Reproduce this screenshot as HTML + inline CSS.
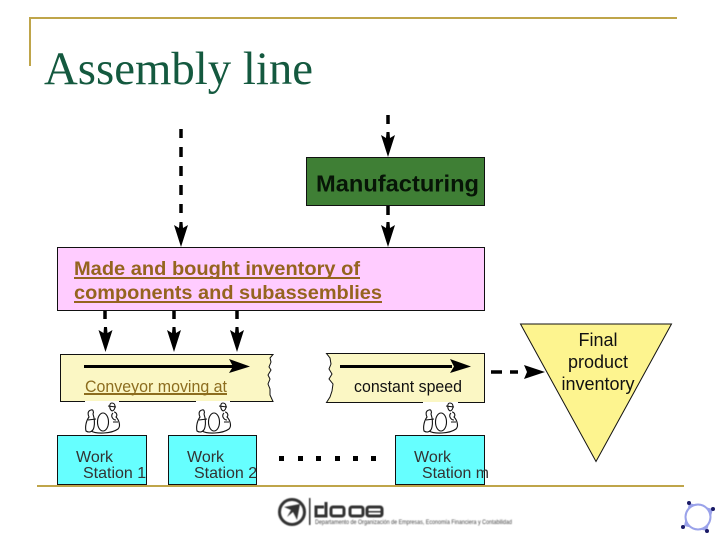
<!DOCTYPE html>
<html><head><meta charset="utf-8"><style>
html,body{margin:0;padding:0;background:#fff}
svg{display:block}
text{font-family:"Liberation Sans",sans-serif}
</style></head><body>
<svg width="720" height="540" viewBox="0 0 720 540" xmlns="http://www.w3.org/2000/svg">
<defs>
<filter id="b" x="-5%" y="-5%" width="110%" height="110%"><feGaussianBlur stdDeviation="0.45"/></filter>
<g id="w" fill="none" stroke="#111" stroke-width="1.1">
<path d="M6 8 C2 9 3 13 4 15 C1 19 0 25 1 29 C4 31 8 30 9 25 C10 20 9 15 8 12 C9 10 8 7 6 8Z"/>
<path d="M3 18 L11 17 M6 29 C11 32 26 32 33 27 C36 24 34 18 31 15 C33 13 31 10 29 10 M27 9 C31 8 31 1 27 1 C24 1 24 7 27 9 M23 4 L31 5"/>
<ellipse cx="18" cy="20" rx="5.500" ry="9"/>
<path d="M28 11 C25 14 28 18 31 18 M28 20 L33 20"/>
</g>
<path id="h" d="M-7 -22L-2 -19L-1.500 -25H1.500L2 -19L7 -22L0 0Z" fill="#000"/>
</defs>
<rect x="29" y="17" width="648" height="2" fill="#bfa54a"/>
<rect x="29" y="17" width="2" height="49" fill="#bfa54a"/>
<rect x="37" y="485" width="647" height="2" fill="#bfa54a"/>
<text x="44" y="84" textLength="269" lengthAdjust="spacingAndGlyphs" style="font-family:'Liberation Serif',serif;font-size:47px" fill="#14593f">Assembly line</text>

<path d="M181 129V138M181 147V157M181 166V176M181 185V195M181 204V213" stroke="#000" stroke-width="3.500" fill="none"/>
<use href="#h" x="181" y="247"/>
<path d="M388 115V124" stroke="#000" stroke-width="3.500"/>
<use href="#h" x="388" y="157"/>
<path d="M388 206V215" stroke="#000" stroke-width="3.500"/>
<use href="#h" x="388" y="247"/>
<path d="M105 311V319M174 311V319M237 311V319" stroke="#000" stroke-width="3.500"/>
<use href="#h" x="105.500" y="352"/>
<use href="#h" x="174" y="352"/>
<use href="#h" x="237" y="352"/>

<rect x="306.500" y="157.500" width="178" height="48" fill="#3f7f35" stroke="#111"/>
<text x="316" y="191.500" font-size="23" font-weight="bold" fill="#071507" textLength="163" lengthAdjust="spacingAndGlyphs">Manufacturing</text>

<rect x="57.500" y="247.500" width="427" height="63" fill="#ffccff" stroke="#111"/>
<text x="74" y="275" font-size="19.500" font-weight="bold" fill="#95641f" textLength="286" lengthAdjust="spacingAndGlyphs">Made and bought inventory of</text>
<rect x="74" y="277" width="286" height="2" fill="#95641f"/>
<text x="74" y="299" font-size="19.500" font-weight="bold" fill="#95641f" textLength="308" lengthAdjust="spacingAndGlyphs">components and subassemblies</text>
<rect x="74" y="301" width="308" height="2" fill="#95641f"/>

<path d="M60.500 354.500H273L270 358L271 362L269 367L271 370L268 375L270 379L268 384L270 389L270 395L273 401.500H60.500Z" fill="#fbf7c4" stroke="#111"/>
<path d="M326.500 353.500H484.500V402.500H326.500L330 397L332 391L333 384L329 379L332 374L329 369L331 364L330 358Z" fill="#fbf7c4" stroke="#111"/>

<path d="M84 366.500H235" stroke="#000" stroke-width="3"/>
<path d="M229 359L250 366.500L229 373L233 366.500Z" fill="#000"/>
<path d="M340 366.500H452" stroke="#000" stroke-width="3"/>
<path d="M450 359L471 366.500L450 373L454 366.500Z" fill="#000"/>

<text x="85" y="392" font-size="17" fill="#8c6d1f" textLength="142" lengthAdjust="spacingAndGlyphs">Conveyor moving at</text>
<rect x="84" y="393" width="143" height="2" fill="#8c6d1f"/>
<text x="354" y="392" font-size="17" fill="#111" textLength="108" lengthAdjust="spacingAndGlyphs">constant speed</text>

<rect x="85" y="401" width="34" height="3" fill="#fff"/>
<rect x="196" y="401" width="34" height="3" fill="#fff"/>
<rect x="423" y="402" width="35" height="3" fill="#fff"/>

<use href="#w" x="85" y="402"/>
<use href="#w" x="196" y="402"/>
<use href="#w" x="423" y="402"/>

<rect x="57.500" y="435.500" width="89" height="49" fill="#66ffff" stroke="#111"/>
<rect x="168.500" y="435.500" width="88" height="49" fill="#66ffff" stroke="#111"/>
<rect x="395.500" y="435.500" width="89" height="49" fill="#66ffff" stroke="#111"/>
<g font-size="16" fill="#333">
<text x="76" y="462">Work</text><text x="83" y="478">Station 1</text>
<text x="187" y="462">Work</text><text x="194" y="478">Station 2</text>
<text x="414" y="462">Work</text><text x="422" y="478" textLength="67" lengthAdjust="spacingAndGlyphs">Station m</text>
</g>

<g fill="#000">
<rect x="279" y="456" width="5" height="5"/><rect x="298" y="456" width="5" height="5"/>
<rect x="316" y="456" width="5" height="5"/><rect x="335" y="456" width="5" height="5"/>
<rect x="353" y="456" width="5" height="5"/><rect x="371" y="456" width="5" height="5"/>
<path d="M491 372H502M510 372H518" stroke="#000" stroke-width="3.500"/>
<path d="M524 365L545 372L524 379L527 372Z"/>
</g>

<path d="M520.500 324L671.500 324L596 461.500Z" fill="#fdf48f" stroke="#111"/>
<g font-size="18" fill="#111" text-anchor="middle">
<text x="598" y="346">Final</text>
<text x="598" y="368">product</text>
<text x="598" y="390">inventory</text>
</g>

<g filter="url(#b)">
<circle cx="292" cy="512" r="12.500" fill="none" stroke="#333" stroke-width="3"/>
<path d="M284 507L300 504L297 520L293 512L287 517L291 510Z" fill="#333"/>
<rect x="309" y="498" width="1.500" height="27" fill="#333"/>
<path d="M326 502V516H316V507H324" fill="none" stroke="#333" stroke-width="3"/>
<rect x="331" y="507" width="13" height="9" rx="2" fill="none" stroke="#333" stroke-width="3"/>
<rect x="350" y="507" width="13" height="9" rx="2" fill="none" stroke="#333" stroke-width="3"/>
<rect x="367" y="507" width="15" height="9" rx="2" fill="none" stroke="#333" stroke-width="3"/>
<rect x="367" y="511" width="15" height="1.500" fill="#333"/>
<text x="315" y="524" font-size="6" fill="#444" textLength="197" lengthAdjust="spacingAndGlyphs">Departamento de Organización de Empresas, Economía Financiera y Contabilidad</text>
</g>

<path d="M689 503L713 509L707 531L684 526Z" fill="#9aa2ea"/>
<circle cx="698" cy="517" r="11.500" fill="#fff"/>
<circle cx="698" cy="517" r="12.500" fill="none" stroke="#9aa2ea" stroke-width="2"/>
<circle cx="689" cy="503" r="2" fill="#1a1a66"/><circle cx="713" cy="509" r="2" fill="#1a1a66"/>
<circle cx="707" cy="531" r="2" fill="#1a1a66"/><circle cx="683" cy="527" r="2" fill="#1a1a66"/>
</svg>
</body></html>
